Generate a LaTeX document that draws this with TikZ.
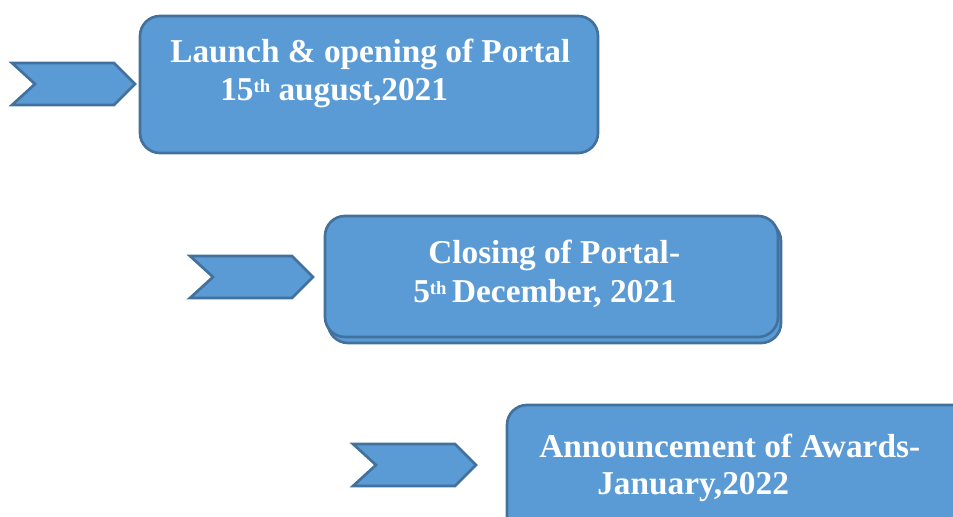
\documentclass[tikz,border=0pt]{standalone}
\usepackage{fontspec}
\setmainfont{Liberation Serif}
\definecolor{boxblue}{HTML}{5B9BD5}
\definecolor{edgeblue}{HTML}{41719C}
\newcommand{\ordsup}[1]{\raisebox{6pt}{\fontsize{14}{14}\selectfont #1}}

\begin{document}
\begin{tikzpicture}[x=0.75pt,y=-0.75pt,
  stage/.style={draw=edgeblue, fill=boxblue, line width=2pt, rounded corners=15pt},
  chev/.style={draw=edgeblue, fill=boxblue, line width=2pt, line join=miter},
  lbl/.style={text=white, font=\bfseries\fontsize{25}{28}\selectfont, anchor=base west, inner sep=0pt}]
\useasboundingbox (0,0) rectangle (953,517);

% chevrons
\foreach \x/\y in {12/63, 190/256, 353/444}{%
   \draw[chev] (\x,\y) -- (\x+102,\y) -- (\x+123,\y+21) -- (\x+102,\y+42)
        -- (\x,\y+42) -- (\x+23,\y+21) -- cycle;
}

% boxes
\draw[stage] (140,16) rectangle (598,153);
\draw[stage] (328,221) rectangle (781,343);
\draw[stage] (325,216) rectangle (778,337);
\begin{scope}
   \clip (0,0) rectangle (953,517);
   \draw[stage] (507,405) rectangle (980,545);
\end{scope}

% texts
\node[lbl] (open1) at (170,63) {Launch \& opening of Portal};
\node[lbl] (open2) at (220,101) {15\ordsup{th} august,2021};
\node[lbl] (close1) at (428,263) {Closing of Portal-};
\node[lbl] (close2) at (413,302) {5\ordsup{th}\,December, 2021};
\node[lbl] (award1) at (539,457) {Announcement of Awards-};
\node[lbl] (award2) at (597,494) {January,2022};
\end{tikzpicture}
\end{document}
